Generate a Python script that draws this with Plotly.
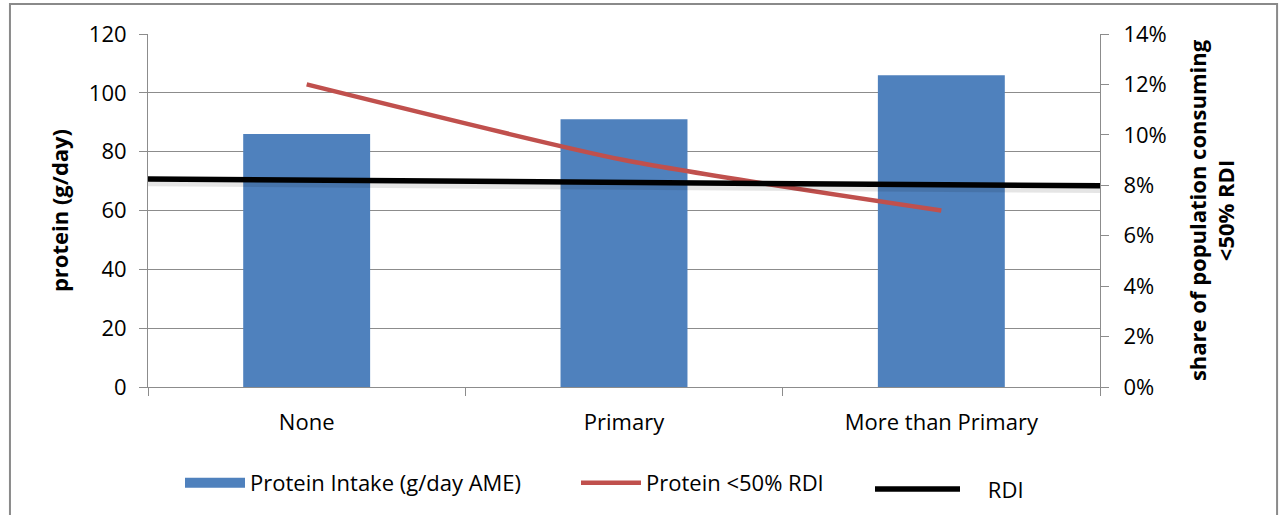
import plotly.graph_objects as go

# Education level of household head
categories = ["None", "Primary", "More than Primary"]

# Average protein intake (g/day per adult male equivalent)
protein_intake = [86, 91, 106]

# Share of population consuming less than 50% of the RDI
share_below_half_rdi = [0.12, 0.09, 0.07]

# Recommended daily intake reference line (left edge, centre, right edge)
rdi_values = [70.7, 69.6, 68.4]

font_family = "Open Sans, Noto Sans, DejaVu Sans, sans-serif"
grid_color = "#8c8c8c"
bar_color = "#4F81BD"
fs = 22

fig = go.Figure()

fig.add_trace(go.Bar(
    x=categories, y=protein_intake,
    name="Protein Intake (g/day AME)",
    marker=dict(color=bar_color, line=dict(width=0)),
    width=0.4, showlegend=False, legendgroup="intake",
    xaxis="x", yaxis="y",
))
# wide rectangular key for the bar series
fig.add_trace(go.Scatter(
    x=[None], y=[None], mode="lines",
    name="Protein Intake (g/day AME)", legendgroup="intake",
    line=dict(color=bar_color, width=15),
    legend="legend",
))

fig.add_trace(go.Scatter(
    x=categories, y=share_below_half_rdi,
    name="Protein <50% RDI",
    mode="lines",
    line=dict(color="#C0504D", width=4.5, shape="spline", smoothing=0.6),
    xaxis="x", yaxis="y2", legend="legend2",
))

# soft shadow under the RDI line
fig.add_trace(go.Scatter(
    x=categories, y=[v - 1.3 for v in rdi_values],
    mode="lines", showlegend=False, hoverinfo="skip",
    line=dict(color="rgba(0,0,0,0.10)", width=7),
    xaxis="x2", yaxis="y",
))

fig.add_trace(go.Scatter(
    x=categories, y=rdi_values,
    name="\u00a0\u00a0\u00a0\u00a0RDI",
    mode="lines",
    line=dict(color="#000000", width=5.5),
    xaxis="x2", yaxis="y", legend="legend3",
))

legend_common = dict(
    orientation="h", xref="container", yref="container",
    xanchor="left", yanchor="middle",
    font=dict(size=fs), bgcolor="rgba(0,0,0,0)",
)

fig.update_layout(
    width=1280, height=515,
    margin=dict(l=148, r=180, t=34, b=128, autoexpand=False),
    paper_bgcolor="white", plot_bgcolor="white",
    font=dict(family=font_family, size=fs, color="#000000"),
    xaxis=dict(
        type="category", range=[-0.5, 2.5],
        showgrid=False, showline=True, linecolor=grid_color, linewidth=1,
        ticks="outside", tickson="boundaries", ticklen=8, tickcolor=grid_color,
        tickfont=dict(size=fs), ticklabelstandoff=16,
    ),
    xaxis2=dict(
        type="category", overlaying="x", range=[0, 2],
        visible=False,
    ),
    yaxis=dict(
        range=[0, 120], dtick=20,
        showgrid=True, gridcolor=grid_color, gridwidth=1,
        showline=True, linecolor=grid_color, linewidth=1,
        ticks="outside", ticklen=8, tickcolor=grid_color,
        zeroline=False,
        tickfont=dict(size=fs), ticklabelstandoff=8,
        title=dict(text="<b>protein (g/day)</b>", font=dict(size=fs), standoff=14),
    ),
    yaxis2=dict(
        range=[0, 0.14], dtick=0.02, tickformat=".0%",
        overlaying="y", side="right",
        showgrid=False, zeroline=False,
        showline=True, linecolor=grid_color, linewidth=1,
        ticks="outside", ticklen=8, tickcolor=grid_color,
        tickfont=dict(size=fs), ticklabelstandoff=10,
        title=dict(text="<b>share of population consuming<br><50% RDI</b>",
                   font=dict(size=fs), standoff=24),
    ),
    legend=dict(legend_common, x=180 / 1280, y=0.062, itemwidth=60),
    legend2=dict(legend_common, x=576 / 1280, y=0.062, itemwidth=60),
    legend3=dict(legend_common, x=870 / 1280, y=0.05, itemwidth=85),
    showlegend=True,
    shapes=[dict(
        type="rect", xref="paper", yref="paper",
        x0=-0.145, x1=1.186, y0=-0.55, y1=1.085,
        line=dict(color="#8a8a8a", width=2), fillcolor="rgba(0,0,0,0)",
        layer="below",
    )],
)

fig.write_html("out.html")
